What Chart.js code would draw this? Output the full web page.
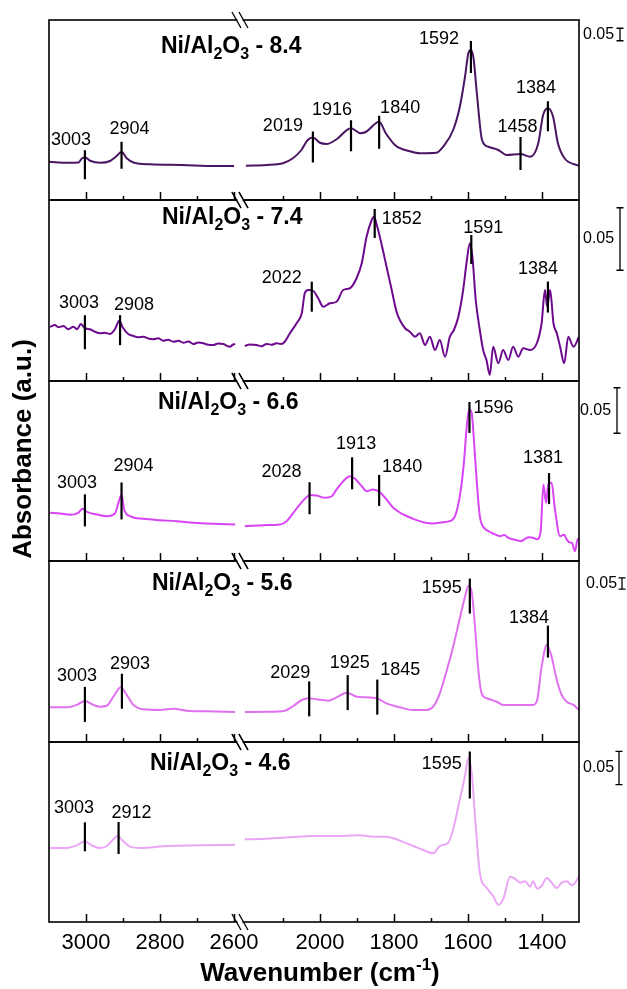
<!DOCTYPE html>
<html>
<head>
<meta charset="utf-8">
<script src="https://cdn.jsdelivr.net/npm/chart.js@4.4.0/dist/chart.umd.min.js"></script>
<style>
  body { margin: 0; background: #fff; }
  #wrap { position: relative; width: 627px; height: 989px; }
  #wrap canvas { position: absolute; left: 0; top: 0; }
</style>
</head>
<body>
<div id="wrap"></div>
<script>
// spectra: wavenumber (cm-1) and absorbance, null = axis break
const wn84 = [3100, 3050, 3020, 3012, 3003, 2989, 2962, 2935, 2917, 2904, 2890, 2870, 2827, 2740, 2650, 2600, 2400,
  2200, 2145, 2100, 2073, 2050, 2033, 2019, 2000, 1982, 1955, 1916, 1890, 1875, 1840, 1822, 1795, 1759, 1730, 1685,
  1667, 1640, 1622, 1608, 1599, 1592, 1585, 1576, 1562, 1545, 1518, 1495, 1458, 1432, 1410, 1397, 1384, 1370, 1357, 1339, 1300];
const abs84 = [0.153, 0.149, 0.150, 0.165, 0.171, 0.157, 0.149, 0.156, 0.176, 0.193, 0.167, 0.149, 0.143, 0.140, 0.136, 0.136, null,
  0.137, 0.140, 0.147, 0.167, 0.200, 0.240, 0.250, 0.229, 0.224, 0.243, 0.287, 0.267, 0.273, 0.313, 0.267, 0.217, 0.196, 0.187, 0.189,
  0.213, 0.280, 0.373, 0.493, 0.587, 0.600, 0.567, 0.427, 0.240, 0.213, 0.200, 0.180, 0.184, 0.173, 0.227, 0.340, 0.367, 0.333, 0.227, 0.167, 0.137];

const wn74 = [3097, 3084, 3075, 3061, 3048, 3034, 3024, 3014, 3003, 2989, 2976, 2962, 2949, 2935, 2922, 2910, 2901, 2886, 2872,
  2860, 2845, 2832, 2818, 2805, 2791, 2778, 2764, 2750, 2737, 2723, 2710, 2696, 2683, 2670, 2656, 2643, 2629, 2620, 2611, 2604, 2597, 2400,
  2203, 2190, 2171, 2158, 2144, 2130, 2117, 2105, 2095, 2081, 2063, 2049, 2041, 2032, 2018, 2005, 1991, 1973, 1955,
  1937, 1919, 1901, 1887, 1874, 1860, 1854, 1845, 1833, 1820, 1806, 1793, 1784, 1770, 1757, 1743, 1730, 1716, 1703, 1689,
  1676, 1662, 1649, 1638, 1626, 1613, 1604, 1595, 1588, 1579, 1568, 1559, 1550, 1541, 1532, 1518, 1505, 1491, 1478, 1464,
  1451, 1432, 1414, 1401, 1392, 1386, 1378, 1369, 1360, 1351, 1340, 1329, 1315, 1300];
const abs74 = [0.0434, 0.0448, 0.0430, 0.0440, 0.0414, 0.0434, 0.0414, 0.0456, 0.0422, 0.0414, 0.0394, 0.0382, 0.0386, 0.0376, 0.0414, 0.0482, 0.0430, 0.0376, 0.0360,
  0.0350, 0.0354, 0.0340, 0.0334, 0.0342, 0.0322, 0.0330, 0.0314, 0.0322, 0.0306, 0.0316, 0.0296, 0.0308, 0.0302, 0.0290, 0.0288, 0.0300, 0.0296, 0.0282, 0.0274, 0.0290, 0.0296, null,
  0.0280, 0.0292, 0.0288, 0.0278, 0.0296, 0.0290, 0.0302, 0.0296, 0.0314, 0.0382, 0.0462, 0.0542, 0.0702, 0.0728, 0.0720, 0.0664, 0.0594, 0.0622, 0.0634,
  0.0728, 0.0742, 0.0822, 0.0942, 0.1154, 0.1288, 0.1314, 0.1234, 0.1088, 0.0914, 0.0728, 0.0554, 0.0488, 0.0422, 0.0394, 0.0354, 0.0382, 0.0288, 0.0354, 0.0248,
  0.0328, 0.0194, 0.0354, 0.0408, 0.0514, 0.0728, 0.0942, 0.1102, 0.0994, 0.0648, 0.0408, 0.0248, 0.0168, 0.0048, 0.0274, 0.0142, 0.0248, 0.0168, 0.0274, 0.0194,
  0.0262, 0.0248, 0.0302, 0.0462, 0.0728, 0.0594, 0.0728, 0.0462, 0.0382, 0.0274, 0.0142, 0.0354, 0.0274, 0.0354];

const wn66 = [3097, 3070, 3043, 3021, 3009, 2996, 2971, 2944, 2922, 2911, 2904, 2897, 2881, 2845, 2800, 2755, 2710, 2656, 2597, 2400,
  2203, 2153, 2108, 2090, 2072, 2054, 2038, 2027, 2009, 1986, 1968, 1955, 1937, 1919, 1905, 1887, 1874, 1856, 1838, 1820,
  1802, 1775, 1748, 1721, 1694, 1667, 1649, 1635, 1622, 1611, 1604, 1597, 1590, 1584, 1576, 1568, 1554, 1545, 1536, 1525,
  1514, 1502, 1491, 1480, 1468, 1457, 1446, 1435, 1424, 1414, 1404, 1396, 1389, 1383, 1374, 1365, 1351, 1340, 1333, 1326,
  1319, 1311, 1305, 1300];
const abs66 = [0.0530, 0.0523, 0.0508, 0.0530, 0.0574, 0.0537, 0.0512, 0.0493, 0.0523, 0.0658, 0.0732, 0.0567, 0.0493, 0.0464, 0.0449, 0.0438, 0.0420, 0.0409, 0.0402, null,
  0.0383, 0.0394, 0.0402, 0.0438, 0.0530, 0.0622, 0.0695, 0.0726, 0.0721, 0.0695, 0.0713, 0.0787, 0.0878, 0.0933, 0.0904, 0.0823, 0.0768, 0.0787, 0.0757, 0.0677,
  0.0585, 0.0512, 0.0464, 0.0427, 0.0413, 0.0427, 0.0438, 0.0493, 0.0713, 0.1080, 0.1447, 0.1667, 0.1630, 0.1337, 0.0860, 0.0493, 0.0354, 0.0330, 0.0310, 0.0290,
  0.0273, 0.0285, 0.0255, 0.0240, 0.0229, 0.0218, 0.0244, 0.0262, 0.0255, 0.0240, 0.0310, 0.0842, 0.0640, 0.0842, 0.0860, 0.0567, 0.0273, 0.0290, 0.0237, 0.0205,
  0.0200, 0.0108, 0.0220, 0.0255];

const wn56 = [3097, 3052, 3025, 3003, 2980, 2962, 2944, 2926, 2906, 2890, 2872, 2845, 2800, 2764, 2728, 2674, 2597, 2400,
  2203, 2144, 2095, 2072, 2049, 2032, 2009, 1978, 1955, 1928, 1901, 1874, 1847, 1820, 1784, 1748, 1712, 1694, 1676, 1657,
  1640, 1622, 1608, 1599, 1590, 1581, 1572, 1563, 1549, 1522, 1505, 1468, 1424, 1413, 1401, 1387, 1374, 1360, 1347, 1333, 1315, 1300];
const abs56 = [0.156, 0.156, 0.167, 0.185, 0.167, 0.159, 0.163, 0.204, 0.246, 0.212, 0.167, 0.147, 0.144, 0.150, 0.141, 0.138, 0.135, null,
  0.135, 0.136, 0.141, 0.162, 0.189, 0.197, 0.192, 0.186, 0.201, 0.222, 0.204, 0.201, 0.197, 0.174, 0.156, 0.144, 0.144, 0.159, 0.219, 0.324,
  0.429, 0.557, 0.654, 0.702, 0.676, 0.519, 0.324, 0.219, 0.197, 0.181, 0.167, 0.167, 0.167, 0.189, 0.339, 0.437, 0.384, 0.279, 0.212, 0.181, 0.167, 0.144];

const wn46 = [3097, 3052, 3025, 3003, 2985, 2962, 2944, 2926, 2915, 2899, 2881, 2854, 2782, 2692, 2597, 2400,
  2203, 2144, 2081, 2018, 1964, 1892, 1856, 1820, 1784, 1748, 1721, 1694, 1676, 1653, 1640, 1622, 1608, 1599, 1590, 1581,
  1568, 1549, 1532, 1518, 1505, 1486, 1473, 1459, 1446, 1432, 1424, 1413, 1401, 1387, 1374, 1360, 1347, 1333, 1319, 1308, 1300];
const abs46 = [0.111, 0.111, 0.115, 0.121, 0.115, 0.111, 0.114, 0.124, 0.129, 0.121, 0.113, 0.111, 0.114, 0.115, 0.116, null,
  0.124, 0.125, 0.127, 0.129, 0.129, 0.130, 0.128, 0.128, 0.122, 0.114, 0.108, 0.103, 0.114, 0.119, 0.139, 0.184, 0.219, 0.246, 0.224, 0.159,
  0.074, 0.051, 0.039, 0.026, 0.034, 0.068, 0.065, 0.059, 0.061, 0.053, 0.061, 0.050, 0.054, 0.066, 0.059, 0.051, 0.059, 0.061, 0.055, 0.061, 0.069];

// labelled bands
const peaks84 = [3003, 2904, 2019, 1916, 1840, 1592, 1458, 1384];
const peaks74 = [3003, 2908, 2022, 1852, 1591, 1384];
const peaks66 = [3003, 2904, 2028, 1913, 1840, 1596, 1381];
const peaks56 = [3003, 2903, 2029, 1925, 1845, 1595, 1384];
const peaks46 = [3003, 2912, 1595];

const sampleNames = ['8.4', '7.4', '6.6', '5.6', '4.6'];
const majorTicks = [3000, 2800, 2600, 2000, 1800, 1600, 1400];
const minorTicks = [2900, 2700, 2100, 1900, 1700, 1500];
const scaleBarValue = 0.05;

// layout of the marker lines: [rise above curve px, length px, label dx, label dy]
const peakStyle84 = [[7, 29, -14, -5], [10, 27, 8, -8], [6, 31, -30, -1], [8, 31, -19, -5], [6, 33, 21, -3], [9, 32, -32, 3], [17, 33, -3, -5], [7, 30, -12, -8]];
const peakStyle74 = [[13, 34, -6, -7], [7, 30, 14, -5], [9, 30, -30, 1], [10, 29, 27, 15], [16, 29, 12, -2], [21, 31, -10, -8]];
const peakStyle66 = [[16, 32, -8, -6], [12, 37, 12, -11], [13, 32, -28, -5], [20, 32, 4, -8], [17, 31, 23, -3], [8, 31, 24, 11], [11, 31, -6, -10]];
const peakStyle56 = [[14, 35, -8, -6], [15, 35, 8, -5], [17, 35, -19, -3], [18, 35, 2, -7], [19, 35, 23, -5], [10, 35, -28, 14], [22, 32, -19, -3]];
const peakStyle46 = [[19, 29, -11, -9], [15, 32, 13, -4], [13, 47, -28, 17]];

const BREAK_SHIFT = 368; // 2200-1300 segment slides up against 2600
function toAxis(w) { return w > 2400 ? w : w + BREAK_SHIFT; }

const FONT = '"Liberation Sans", Arial, sans-serif';

const panels = [
  { wn: wn84, abs: abs84, peaks: peaks84, style: peakStyle84, top: 20, bottom: 200, ymax: 0.72, color: '#4a1562',
    title: [161, 33], bar: [583, 620, 14.5] },
  { wn: wn74, abs: abs74, peaks: peaks74, style: peakStyle74, top: 200, bottom: 381, ymax: 0.1448, color: '#6c0a8e',
    title: [162, 24], bar: [583, 620, 39] },
  { wn: wn66, abs: abs66, peaks: peaks66, style: peakStyle66, top: 381, bottom: 561, ymax: 0.198, color: '#d944f5',
    title: [158, 28], bar: [580, 617, 29.5] },
  { wn: wn56, abs: abs56, peaks: peaks56, style: peakStyle56, top: 561, bottom: 742, ymax: 0.8145, color: '#e070f0',
    title: [152, 29], bar: [586, 622, 22.5] },
  { wn: wn46, abs: abs46, peaks: peaks46, style: peakStyle46, top: 742, bottom: 922, ymax: 0.27, color: '#eaa6f5',
    title: [150, 28], bar: [583, 619, 26] }
];

function interpAbs(p, w) {
  for (let i = 0; i < p.wn.length - 1; i++) {
    if (p.abs[i] == null || p.abs[i + 1] == null) continue;
    const a = p.wn[i], b = p.wn[i + 1];
    if ((a - w) * (b - w) <= 0) {
      const t = (w - a) / (b - a);
      return p.abs[i] + t * (p.abs[i + 1] - p.abs[i]);
    }
  }
  return 0;
}

function drawTitle(ctx, name, x, y) {
  const big = 'bold 23px ' + FONT, sub = 'bold 16px ' + FONT;
  const parts = [['Ni/Al', big, 0], ['2', sub, 6], ['O', big, 0], ['3', sub, 6], [' - ' + name, big, 0]];
  ctx.fillStyle = '#000';
  ctx.textAlign = 'left';
  ctx.textBaseline = 'alphabetic';
  for (const [t, f, dy] of parts) {
    ctx.font = f;
    ctx.fillText(t, x, y + dy);
    x += ctx.measureText(t).width;
  }
}

function drawBreak(ctx, cx, yb) {
  ctx.fillStyle = '#fff';
  ctx.fillRect(cx - 2.5, yb - 1.5, 5, 3);
  ctx.strokeStyle = '#000';
  ctx.lineWidth = 1.3;
  for (const dx of [-3.5, 3.5]) {
    ctx.beginPath();
    ctx.moveTo(cx + dx - 4.5, yb - 8);
    ctx.lineTo(cx + dx + 4.5, yb + 8);
    ctx.stroke();
  }
}

function drawAxisText(chart) {
  const { ctx, scales: { x } } = chart;
  ctx.fillStyle = '#000';
  ctx.font = '22px ' + FONT;
  ctx.textAlign = 'center';
  ctx.textBaseline = 'alphabetic';
  majorTicks.forEach(t => ctx.fillText(String(t), x.getPixelForValue(toAxis(t)), 949));

  // x title with superscript
  const big = 'bold 26px ' + FONT, sup = 'bold 17px ' + FONT;
  const parts = [['Wavenumber (cm', big, 0], ['-1', sup, -11], [')', big, 0]];
  let w = 0;
  parts.forEach(([t, f]) => { ctx.font = f; w += ctx.measureText(t).width; });
  let xx = 320 - w / 2;
  ctx.textAlign = 'left';
  for (const [t, f, dy] of parts) {
    ctx.font = f;
    ctx.fillText(t, xx, 981 + dy);
    xx += ctx.measureText(t).width;
  }

  ctx.save();
  ctx.translate(24, 449);
  ctx.rotate(-Math.PI / 2);
  ctx.font = 'bold 26px ' + FONT;
  ctx.textAlign = 'center';
  ctx.textBaseline = 'middle';
  ctx.fillText('Absorbance (a.u.)', 0, 0);
  ctx.restore();
}

function makeDecor(p, idx) {
  return {
    id: 'decor' + idx,
    afterDraw(chart) {
      const { ctx, chartArea: a, scales: { x, y } } = chart;
      ctx.save();
      // frame
      ctx.strokeStyle = '#000';
      ctx.lineWidth = 1.6;
      ctx.strokeRect(a.left, a.top, a.right - a.left, a.bottom - a.top);
      // inward ticks on the lower edge
      ctx.lineWidth = 1.5;
      const tick = (w, len) => {
        const px = Math.round(x.getPixelForValue(toAxis(w))) + 0.5;
        ctx.beginPath();
        ctx.moveTo(px, a.bottom);
        ctx.lineTo(px, a.bottom - len);
        ctx.stroke();
      };
      majorTicks.forEach(t => tick(t, 8));
      minorTicks.forEach(t => tick(t, 4));
      // axis break
      const bx = (x.getPixelForValue(2600) + x.getPixelForValue(toAxis(2200))) / 2;
      drawBreak(ctx, bx, a.top);
      drawBreak(ctx, bx, a.bottom);

      drawTitle(ctx, sampleNames[idx], p.title[0], a.top + p.title[1]);

      // band markers
      ctx.font = '18px ' + FONT;
      ctx.textAlign = 'center';
      ctx.textBaseline = 'alphabetic';
      p.peaks.forEach((w, i) => {
        const [rise, len, dx, dy] = p.style[i];
        const px = x.getPixelForValue(toAxis(w));
        const top = y.getPixelForValue(interpAbs(p, w)) - rise;
        ctx.strokeStyle = '#000';
        ctx.lineWidth = 2.2;
        ctx.beginPath();
        ctx.moveTo(px, top);
        ctx.lineTo(px, top + len);
        ctx.stroke();
        ctx.fillStyle = '#000';
        ctx.fillText(String(w), px + dx, top + dy);
      });

      // 0.05 scale bar
      const [tx, barX, cOff] = p.bar;
      const h = Math.abs(y.getPixelForValue(0) - y.getPixelForValue(scaleBarValue));
      const cy = a.top + cOff;
      ctx.lineWidth = 1.3;
      ctx.beginPath();
      ctx.moveTo(barX, cy - h / 2); ctx.lineTo(barX, cy + h / 2);
      ctx.moveTo(barX - 3.5, cy - h / 2); ctx.lineTo(barX + 3.5, cy - h / 2);
      ctx.moveTo(barX - 3.5, cy + h / 2); ctx.lineTo(barX + 3.5, cy + h / 2);
      ctx.stroke();
      ctx.font = '16px ' + FONT;
      ctx.textAlign = 'left';
      ctx.textBaseline = 'middle';
      ctx.fillText(scaleBarValue.toFixed(2), tx, cy);

      if (idx === panels.length - 1) drawAxisText(chart);
      ctx.restore();
    }
  };
}

const wrap = document.getElementById('wrap');
panels.forEach((p, idx) => {
  if (p.wn.length !== p.abs.length) console.warn('length mismatch in panel', idx);
  const canvas = document.createElement('canvas');
  canvas.width = 627;
  canvas.height = 989;
  wrap.appendChild(canvas);
  const pts = p.wn.map((w, i) => ({ x: toAxis(w), y: p.abs[i] }));
  new Chart(canvas, {
    type: 'line',
    data: {
      datasets: [{
        data: pts,
        borderColor: p.color,
        borderWidth: 2,
        pointRadius: 0,
        fill: false,
        spanGaps: false,
        cubicInterpolationMode: 'monotone'
      }]
    },
    options: {
      responsive: false,
      animation: false,
      devicePixelRatio: 1,
      events: [],
      layout: { padding: { left: 49, right: 48, top: p.top, bottom: 989 - p.bottom } },
      plugins: { legend: { display: false }, tooltip: { enabled: false } },
      scales: {
        x: { type: 'linear', reverse: true, min: 1668, max: 3100, display: false },
        y: { type: 'linear', min: 0, max: p.ymax, display: false }
      }
    },
    plugins: [makeDecor(p, idx)]
  });
});
</script>
</body>
</html>
